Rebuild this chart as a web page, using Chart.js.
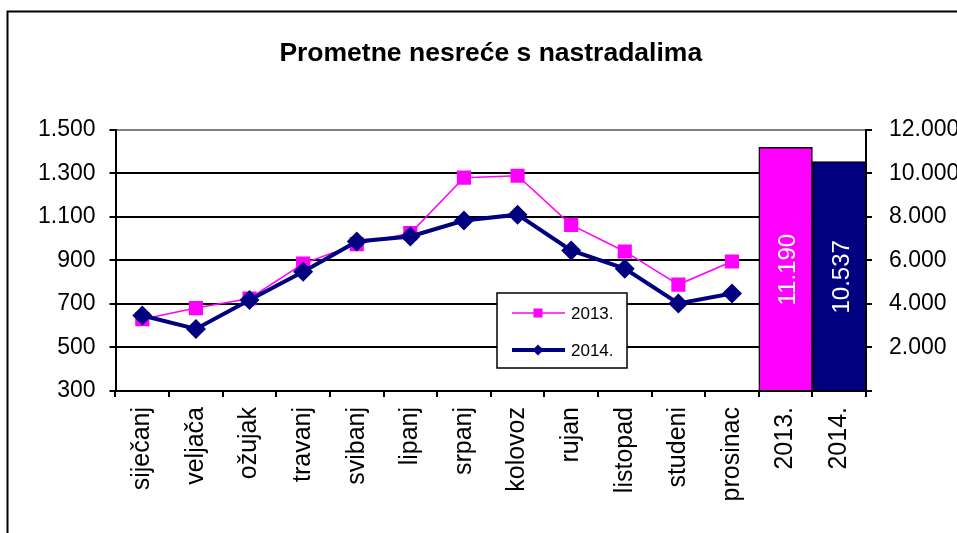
<!DOCTYPE html>
<html><head><meta charset="utf-8">
<script src="https://cdn.jsdelivr.net/npm/chart.js@4/dist/chart.umd.min.js"></script>
<style>html,body{margin:0;padding:0;background:#fff;}canvas{display:block;}</style>
</head><body>
<canvas id="c" width="957" height="533"></canvas>
<script>
const months = ['siječanj','veljača','ožujak','travanj','svibanj','lipanj','srpanj','kolovoz','rujan','listopad','studeni','prosinac'];
const totalLabels = ['2013.','2014.'];
const series2013 = [630,681,725,885,975,1025,1280,1289,1063,941,789,895];
const series2014 = [647,585,718,848,987,1010,1083,1110,946,862,702,748];
const totals = [11190,10537];
const seriesNames = ['2013.','2014.'];
const leftTicks = [300,500,700,900,1100,1300,1500];
const rightTicks = [0,2000,4000,6000,8000,10000,12000];
const chartTitle = 'Prometne nesreće s nastradalima';

const fmt = v => String(v).replace(/\B(?=(\d{3})+(?!\d))/g, '.');
const FONT = '"Liberation Sans", Arial, sans-serif';
Chart.defaults.font.family = FONT;
Chart.defaults.color = '#000';

const categories = months.concat(totalLabels);
const pad = arr => arr.concat(totalLabels.map(() => null));
const barData = months.map(() => null).concat(totals);
const MAGENTA = '#FF00FF', NAVY = '#000080';

const framePlugin = {
  id: 'frame',
  beforeDraw(chart) {
    const c = chart.ctx;
    c.save();
    c.fillStyle = '#fff';
    c.fillRect(0, 0, chart.width, chart.height);
    c.strokeStyle = '#000';
    c.lineWidth = 2;
    c.strokeRect(7.5, 11.5, 1200, 800);
    c.restore();
  }
};

const barLabelPlugin = {
  id: 'barLabels',
  afterDatasetsDraw(chart) {
    const c = chart.ctx;
    const idx = chart.data.datasets.findIndex(d => d.type === 'bar');
    const meta = chart.getDatasetMeta(idx);
    c.save();
    c.fillStyle = '#fff';
    c.font = '24px ' + FONT;
    c.textAlign = 'center';
    c.textBaseline = 'middle';
    meta.data.forEach((el, i) => {
      const v = chart.data.datasets[idx].data[i];
      if (v == null) return;
      c.save();
      c.translate(el.x + 3, (el.y + el.base) / 2 + 1);
      c.rotate(-Math.PI / 2);
      c.fillText(fmt(v), 0, 0);
      c.restore();
    });
    c.restore();
  }
};

const legendPlugin = {
  id: 'customLegend',
  afterDraw(chart) {
    const c = chart.ctx;
    const bx = 497, by = 293, bw = 130, bh = 75;
    c.save();
    c.fillStyle = '#fff';
    c.fillRect(bx, by, bw, bh);
    c.strokeStyle = '#000';
    c.lineWidth = 1.5;
    c.strokeRect(bx, by, bw, bh);
    const lines = chart.data.datasets.filter(d => d.type === 'line');
    const rows = [313, 350];
    lines.forEach((d, i) => {
      const y = rows[i];
      c.strokeStyle = d.borderColor;
      c.lineWidth = d.borderWidth;
      c.beginPath(); c.moveTo(512, y); c.lineTo(565, y); c.stroke();
      c.fillStyle = d.pointBackgroundColor;
      c.beginPath();
      if (d.pointStyle === 'rect') {
        c.rect(538 - 4.5, y - 4.5, 9, 9);
      } else {
        const r = 5.5;
        c.moveTo(538, y - r); c.lineTo(538 + r, y); c.lineTo(538, y + r); c.lineTo(538 - r, y); c.closePath();
      }
      c.fill();
      c.fillStyle = '#000';
      c.font = '17px ' + FONT;
      c.textAlign = 'left';
      c.textBaseline = 'middle';
      c.fillText(d.label, 571, y + 1);
    });
    c.restore();
  }
};

new Chart(document.getElementById('c'), {
  data: {
    labels: categories,
    datasets: [
      { type: 'line', label: seriesNames[0], data: pad(series2013), yAxisID: 'y',
        borderColor: MAGENTA, borderWidth: 1.5, tension: 0,
        pointStyle: 'rect', pointRadius: 10, pointHoverRadius: 10,
        pointBackgroundColor: MAGENTA, pointBorderWidth: 0, order: 2 },
      { type: 'line', label: seriesNames[1], data: pad(series2014), yAxisID: 'y',
        borderColor: NAVY, borderWidth: 4, tension: 0,
        pointStyle: 'rectRot', pointRadius: 10, pointHoverRadius: 10,
        pointBackgroundColor: NAVY, pointBorderWidth: 0, order: 1 },
      { type: 'bar', label: 'ukupno', data: barData, yAxisID: 'y2',
        backgroundColor: ctx => ctx.dataIndex === months.length ? MAGENTA : NAVY,
        borderColor: '#000', borderWidth: 1.5,
        barPercentage: 1, categoryPercentage: 1, order: 3 }
    ]
  },
  options: {
    responsive: false,
    animation: false,
    devicePixelRatio: 1,
    layout: { padding: 0 },
    plugins: {
      legend: { display: false },
      tooltip: { enabled: false },
      title: {
        display: true, text: chartTitle, fullSize: false, color: '#000',
        font: { size: 26.5, weight: 'bold', family: FONT },
        padding: { top: 38, bottom: 60 }
      }
    },
    scales: {
      x: {
        offset: true,
        grid: { display: true, drawOnChartArea: false, drawTicks: true, tickLength: 6, offset: true, color: '#000', lineWidth: 2 },
        border: { display: true, color: '#000', width: 2 },
        ticks: { autoSkip: false, maxRotation: 90, minRotation: 90, padding: 10, font: { size: 25 } },
        afterFit: s => { s.height = 142; }
      },
      y: {
        position: 'left', min: leftTicks[0], max: leftTicks[leftTicks.length - 1],
        afterBuildTicks: s => { s.ticks = leftTicks.map(v => ({ value: v })); },
        grid: { color: ctx => ctx.tick && ctx.tick.value === 1500 ? '#808080' : '#000', lineWidth: 2, tickLength: 6, tickColor: '#000' },
        border: { display: true, color: '#000', width: 2 },
        ticks: { padding: 14, font: { size: 23 }, callback: v => fmt(v) },
        afterFit: s => { s.width = 115.5; }
      },
      y2: {
        position: 'right', min: rightTicks[0], max: rightTicks[rightTicks.length - 1],
        afterBuildTicks: s => { s.ticks = rightTicks.map(v => ({ value: v })); },
        grid: { drawOnChartArea: false, drawTicks: true, tickLength: 6, color: '#000', lineWidth: 2 },
        border: { display: true, color: '#000', width: 2 },
        ticks: { padding: 17, font: { size: 23 }, callback: v => v === 0 ? '' : fmt(v) },
        afterFit: s => { s.width = 91; }
      }
    }
  },
  plugins: [framePlugin, barLabelPlugin, legendPlugin]
});
</script>
</body></html>
